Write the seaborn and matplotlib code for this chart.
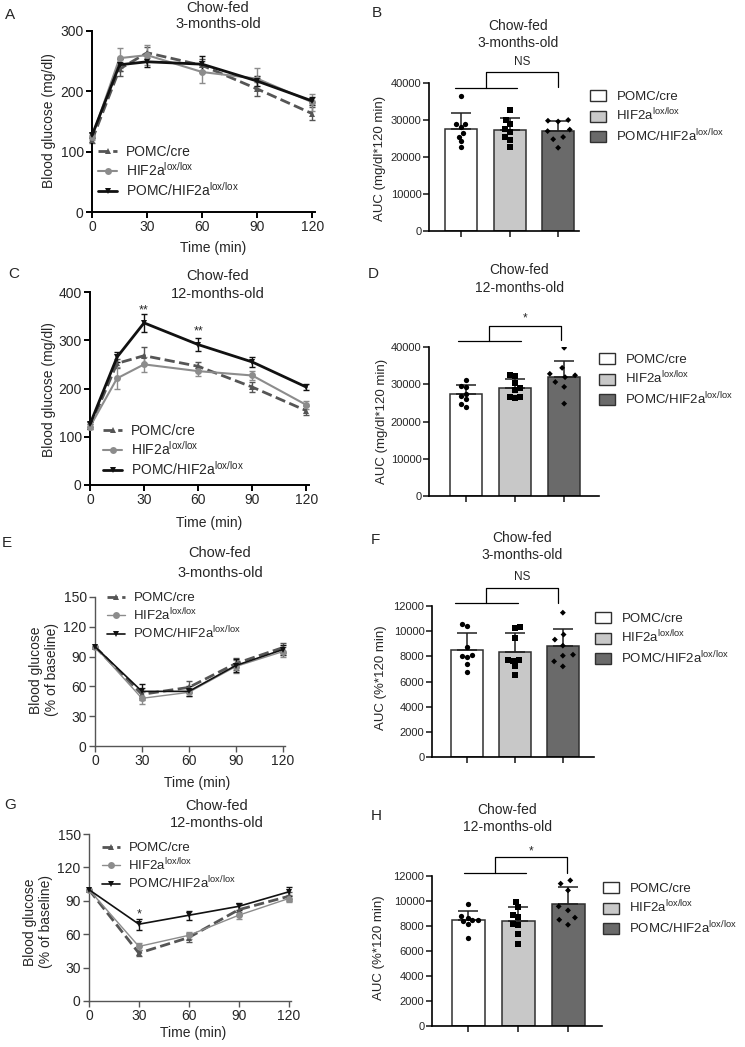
import numpy as np
import pandas as pd
import seaborn as sns
import matplotlib.pyplot as plt
from matplotlib.patches import Patch

sns.set_style("ticks")
plt.rcParams["font.family"] = ["Liberation Sans", "DejaVu Sans"]

W, H = 745, 1047

groups = ["POMC/cre", "HIF2a$^{\\mathregular{lox/lox}}$", "POMC/HIF2a$^{\\mathregular{lox/lox}}$"]

gtt_time = [0, 15, 30, 60, 90, 120]
itt_time = [0, 30, 60, 90, 120]

# A: GTT, chow-fed 3-months-old (mean, SEM)
a_cre = [119, 237, 264, 243, 204, 163]
a_cre_err = [4, 11, 9, 10, 11, 11]
a_hif = [124, 255, 260, 232, 221, 182]
a_hif_err = [4, 17, 16, 18, 17, 14]
a_pomc_hif = [127, 244, 249, 245, 217, 184]
a_pomc_hif_err = [4, 10, 9, 13, 8, 7]

# C: GTT, chow-fed 12-months-old
c_cre = [121, 252, 268, 246, 203, 154]
c_cre_err = [5, 10, 17, 8, 10, 9]
c_hif = [121, 221, 250, 236, 227, 166]
c_hif_err = [5, 23, 15, 10, 10, 9]
c_pomc_hif = [126, 265, 336, 291, 255, 203]
c_pomc_hif_err = [5, 10, 19, 14, 10, 7]

# E: ITT, chow-fed 3-months-old (% of baseline)
e_cre = [100, 52, 59, 83, 99]
e_cre_err = [0, 6, 6, 6, 5]
e_hif = [100, 48, 54, 80, 95]
e_hif_err = [0, 6, 4, 7, 5]
e_pomc_hif = [100, 55, 55, 81, 97]
e_pomc_hif_err = [0, 7, 5, 7, 5]

# G: ITT, chow-fed 12-months-old
g_cre = [100, 43, 57, 82, 94]
g_cre_err = [0, 3, 4, 5, 4]
g_hif = [100, 49, 59, 77, 92]
g_hif_err = [0, 3, 3, 3, 3]
g_pomc_hif = [100, 69, 77, 85, 98]
g_pomc_hif_err = [0, 5, 4, 3, 4]

# AUC per animal
b_cre = [36400, 29000, 28800, 28000, 26500, 25500, 24200, 22600]
b_hif = [32800, 30000, 29000, 27500, 26800, 25500, 24700, 22800]
b_pomc_hif = [30000, 29800, 29600, 27400, 27000, 25400, 24800, 22500]

d_cre = [31200, 29600, 29300, 27500, 26800, 26000, 24700, 23900]
d_hif = [32600, 32200, 30400, 28900, 28400, 26700, 26500, 26300]
d_pomc_hif = [39800, 34400, 32800, 32400, 31900, 30600, 29300, 24800]

f_cre = [10600, 10450, 8750, 8050, 8100, 7950, 7400, 6720]
f_hif = [10350, 10270, 9470, 7730, 7680, 7200, 6530, 7600]
f_pomc_hif = [11470, 9730, 9330, 8850, 8130, 8050, 7600, 7200]

h_cre = [9790, 8800, 8670, 8500, 8450, 8400, 8200, 7070]
h_hif = [9920, 9520, 8850, 8720, 8190, 8050, 7390, 6530]
h_pomc_hif = [11650, 11390, 10850, 9570, 9250, 8670, 8500, 8100]

line_colors = ["#555555", "#8c8c8c", "#111111"]
line_dash = ["--", "-", "-"]
line_markers = ["^", "o", "v"]
bar_colors = ["#ffffff", "#c8c8c8", "#6a6a6a"]
point_markers = ["o", "s", "D"]
point_sizes = [3.8, 3.8, 3.0]

fig = plt.figure(figsize=(W / 100, H / 100), dpi=100)


def px_axes(left, top, right, bottom):
    return fig.add_axes([left / W, 1 - bottom / H, (right - left) / W, (bottom - top) / H])


def ftext(x, y, s, **kw):
    fig.text(x / W, 1 - y / H, s, **kw)


def line_panel(box, times, series, ylim, yticks, widths, leg, leg_size, spine_color, spine_lw):
    ax = px_axes(*box)
    handles = []
    for i, (mean, err) in enumerate(series):
        sns.lineplot(x=times, y=mean, ax=ax, color=line_colors[i], linestyle=line_dash[i],
                     linewidth=widths[i], marker=line_markers[i], markersize=5,
                     markeredgewidth=0, errorbar=None, clip_on=False, zorder=3)
        handles.append(ax.lines[-1])
        ax.errorbar(times, mean, yerr=err, fmt="none", ecolor=line_colors[i], elinewidth=1,
                    capsize=2.2, capthick=1, clip_on=False, zorder=2)
    ax.set_xlim(0, 121.5)
    ax.set_ylim(*ylim)
    ax.set_xticks([0, 30, 60, 90, 120])
    ax.set_yticks(yticks)
    sns.despine(ax=ax)
    for s in ["left", "bottom"]:
        ax.spines[s].set_color(spine_color)
        ax.spines[s].set_linewidth(spine_lw)
    ax.tick_params(labelsize=10, length=4, width=spine_lw, color=spine_color, pad=2)
    ax.legend(handles, groups, loc="upper left", bbox_to_anchor=(leg[0] / W, 1 - leg[1] / H),
              bbox_transform=fig.transFigure, frameon=False, borderpad=0, borderaxespad=0,
              handlelength=1.4, handletextpad=0.6, labelspacing=0.15, fontsize=leg_size)
    return ax


def bar_panel(box, pts, xlim, ymax, ystep, br, leg):
    ax = px_axes(*box)
    df = pd.DataFrame({"group": np.repeat(groups, [len(p) for p in pts]),
                       "value": np.concatenate(pts)})
    sns.barplot(data=df, x="group", y="value", hue="group", order=groups, hue_order=groups,
                palette=bar_colors, errorbar=None, width=0.66, edgecolor="#303030",
                linewidth=1.1, legend=False, ax=ax, zorder=1)
    stats = df.groupby("group", sort=False)["value"].agg(["mean", "std"]).reindex(groups)
    ax.errorbar(np.arange(3), stats["mean"], yerr=[np.zeros(3), stats["std"]], fmt="none",
                ecolor="#202020", elinewidth=1.1, capsize=7, capthick=1.1, zorder=2)
    for i, p in enumerate(pts):
        sns.swarmplot(x=[groups[i]] * len(p), y=p, order=groups, color="black",
                      marker=point_markers[i], size=point_sizes[i], linewidth=0, ax=ax, zorder=3)
        # wider spacing between the dots without making them bigger
        ax.collections[-1].set_linewidth(7 - point_sizes[i])
        ax.collections[-1].set_edgecolor("none")
    ax.set_xlim(*xlim)
    ax.set_ylim(0, ymax)
    ax.set_yticks(np.arange(0, ymax + 1, ystep))
    ax.set_xticks(range(3))
    ax.set_xticklabels([])
    ax.set_xlabel("")
    ax.set_ylabel("")
    sns.despine(ax=ax)
    for s in ["left", "bottom"]:
        ax.spines[s].set_color("black")
        ax.spines[s].set_linewidth(1.2)
    ax.tick_params(labelsize=8, length=4, width=1.2, pad=1.5)
    x0, x1, xm, x2, ylo, yhi, yr, lab, ylab = br
    ax.plot([x0, x1], [ylo, ylo], color="black", lw=0.9, clip_on=False)
    ax.plot([xm, xm, x2, x2], [ylo, yhi, yhi, yr], color="black", lw=0.9, clip_on=False)
    ax.text((xm + x2) / 2, ylab, lab, ha="center", va="center", fontsize=8.5)
    handles = [Patch(facecolor=c, edgecolor="#303030", linewidth=1) for c in bar_colors]
    ax.legend(handles, groups, loc="upper left", bbox_to_anchor=(leg[0] / W, 1 - leg[1] / H),
              bbox_transform=fig.transFigure, frameon=False, borderpad=0, borderaxespad=0,
              handlelength=1.2, handleheight=0.9, handletextpad=0.8, labelspacing=0.3,
              fontsize=9.5)
    return ax


thick = [2, 1.5, 2]
thin = [2, 1, 1.2]

ax_a = line_panel((92, 31, 315, 212), gtt_time,
                  [(a_cre, a_cre_err), (a_hif, a_hif_err), (a_pomc_hif, a_pomc_hif_err)],
                  (0, 300), [0, 100, 200, 300], thick, (98, 145), 10, "black", 1.4)
ax_c = line_panel((90, 292, 309, 485), gtt_time,
                  [(c_cre, c_cre_err), (c_hif, c_hif_err), (c_pomc_hif, c_pomc_hif_err)],
                  (0, 400), [0, 100, 200, 300, 400], thick, (103, 424), 10, "black", 1.4)
ax_c.text(30, 362, "**", ha="center", va="center", fontsize=9)
ax_c.text(60, 319, "**", ha="center", va="center", fontsize=9)
ax_e = line_panel((95, 597, 285, 746), itt_time,
                  [(e_cre, e_cre_err), (e_hif, e_hif_err), (e_pomc_hif, e_pomc_hif_err)],
                  (0, 150), [0, 30, 60, 90, 120, 150], thin, (107, 592), 9.5, "#555555", 1.0)
ax_g = line_panel((89, 834, 291, 1001), itt_time,
                  [(g_cre, g_cre_err), (g_hif, g_hif_err), (g_pomc_hif, g_pomc_hif_err)],
                  (0, 150), [0, 30, 60, 90, 120, 150], thin, (102, 842), 9.5, "#555555", 1.0)
ax_g.text(30, 78, "*", ha="center", va="center", fontsize=9)

bar_panel((429, 83, 579, 231), [b_cre, b_hif, b_pomc_hif], (-0.66, 2.43), 40000, 10000,
          (-0.12, 1.15, 0.52, 2.0, 38650, 42970, 38800, "NS", 45700), (590, 90))
bar_panel((429, 347, 599, 496), [d_cre, d_hif, d_pomc_hif], (-0.755, 2.71), 40000, 10000,
          (-0.16, 1.12, 0.47, 1.94, 41600, 45600, 41900, "*", 47800), (599, 353))
bar_panel((432, 606, 594, 757), [f_cre, f_hif, f_pomc_hif], (-0.73, 2.65), 12000, 2000,
          (-0.25, 1.06, 0.40, 1.90, 12240, 13430, 12250, "NS", 14300), (595, 612))
bar_panel((432, 876, 602, 1026), [h_cre, h_hif, h_pomc_hif], (-0.72, 2.68), 12000, 2000,
          (-0.08, 1.16, 0.54, 1.98, 12240, 13520, 12260, "*", 14000), (603, 882))

# panel titles
titles = [(218, 8, 24, "3-months-old", 10.5), (518, 26, 43, "3-months-old", 10),
          (218, 276, 294, "12-months-old", 10.5), (519, 270, 288, "12-months-old", 10),
          (220, 553, 573, "3-months-old", 10.5), (522, 538, 555, "3-months-old", 10),
          (217, 806, 823, "12-months-old", 10.5), (507, 810, 827, "12-months-old", 10)]
for x, y1, y2, age, fs in titles:
    ftext(x, y1, "Chow-fed", ha="center", va="center", fontsize=fs)
    ftext(x, y2, age, ha="center", va="center", fontsize=fs)

# panel letters
for lab, x, y in [("A", 10, 15), ("B", 377, 13), ("C", 14, 274), ("D", 373, 274),
                  ("E", 7, 543), ("F", 375, 540), ("G", 10, 805), ("H", 376, 816)]:
    ftext(x, y, lab, ha="center", va="center", fontsize=11)

# axis labels
ftext(49, 121, "Blood glucose (mg/dl)", rotation=90, ha="center", va="center", fontsize=10)
ftext(49, 390, "Blood glucose (mg/dl)", rotation=90, ha="center", va="center", fontsize=10)
ftext(44, 670, "Blood glucose\n(% of baseline)", rotation=90, ha="center", va="center",
      fontsize=10, linespacing=1.1)
ftext(38, 922, "Blood glucose\n(% of baseline)", rotation=90, ha="center", va="center",
      fontsize=10, linespacing=1.1)
ftext(380, 158, "AUC (mg/dl*120 min)", rotation=90, ha="center", va="center", fontsize=9.5)
ftext(382, 421, "AUC (mg/dl*120 min)", rotation=90, ha="center", va="center", fontsize=9.5)
ftext(381, 678, "AUC (%*120 min)", rotation=90, ha="center", va="center", fontsize=9.5)
ftext(379, 948, "AUC (%*120 min)", rotation=90, ha="center", va="center", fontsize=9.5)
for x, y in [(213, 248), (209, 523), (197, 783), (193, 1033)]:
    ftext(x, y, "Time (min)", ha="center", va="center", fontsize=10)

fig.savefig("out.png", dpi=100)
